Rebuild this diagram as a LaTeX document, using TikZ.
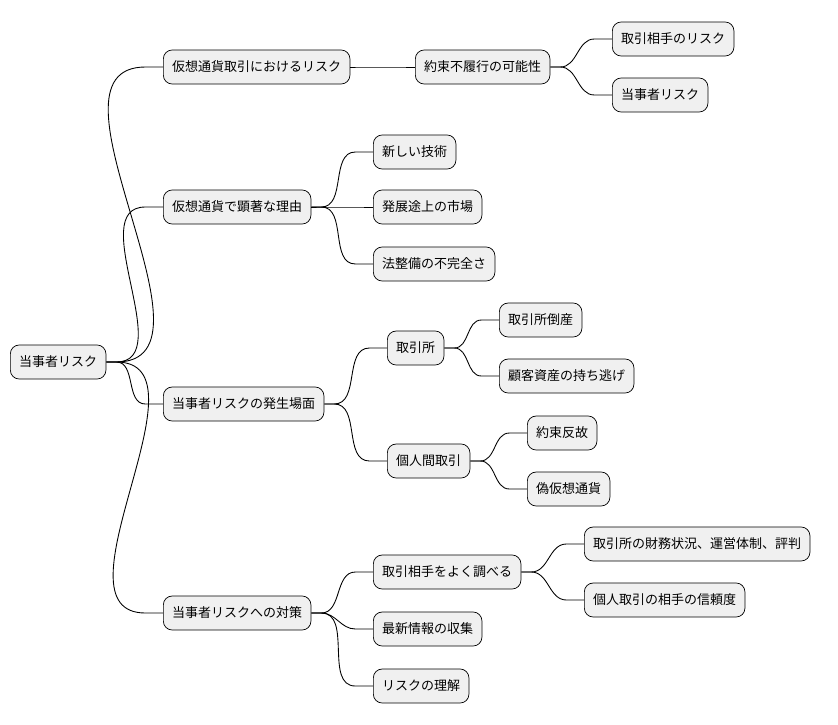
\documentclass[tikz,border=0pt]{standalone}
\usepackage{fontspec}
\setmainfont{Noto Sans CJK JP}
\begin{document}
\begin{tikzpicture}[x=0.02cm,y=-0.02cm,
% common options for the boxes:
topic/.style = {draw, fill=black!6, rounded corners=5pt, anchor=west,
            minimum height=0.68cm, inner xsep=5pt, font=\fontsize{7.4}{9}\selectfont},
% common options for the links:
link/.style = {draw, line width=0.5pt}]
\useasboundingbox (0,0) rectangle (838,724);
% root
\node[topic] (R) at (10,362) {当事者リスク};

% first branch
\node[topic] (A) at (163,67) {仮想通貨取引におけるリスク};
\node[topic] (A1) at (415,67) {約束不履行の可能性};
\node[topic] (A11) at (612,39) {取引相手のリスク};
\node[topic] (A12) at (612,95) {当事者リスク};

% second branch
\node[topic] (B) at (163,207) {仮想通貨で顕著な理由};
\node[topic] (B1) at (373,152) {新しい技術};
\node[topic] (B2) at (373,207) {発展途上の市場};
\node[topic] (B3) at (373,264) {法整備の不完全さ};

% third branch
\node[topic] (C) at (163,404) {当事者リスクの発生場面};
\node[topic] (C1) at (387,348) {取引所};
\node[topic] (C11) at (499,320) {取引所倒産};
\node[topic] (C12) at (499,376) {顧客資産の持ち逃げ};
\node[topic] (C2) at (387,461) {個人間取引};
\node[topic] (C21) at (527,433) {約束反故};
\node[topic] (C22) at (527,489) {偽仮想通貨};

% fourth branch
\node[topic] (D) at (163,613) {当事者リスクへの対策};
\node[topic] (D1) at (373,572) {取引相手をよく調べる};
\node[topic] (D11) at (584,544) {取引所の財務状況、運営体制、評判};
\node[topic] (D12) at (584,600) {個人取引の相手の信頼度};
\node[topic] (D2) at (373,629) {最新情報の収集};
\node[topic] (D3) at (373,686) {リスクの理解};

\foreach \p/\c in {R/A,R/B,R/C,R/D,A/A1,A1/A11,A1/A12,B/B1,B/B2,B/B3,
    C/C1,C/C2,C1/C11,C1/C12,C2/C21,C2/C22,D/D1,D/D2,D/D3,D1/D11,D1/D12}
  \draw[link] (\p.east) -- ++(10,0) to[out=0,in=180] ([xshift=-10]\c.west) -- (\c.west);
\end{tikzpicture}
\end{document}
